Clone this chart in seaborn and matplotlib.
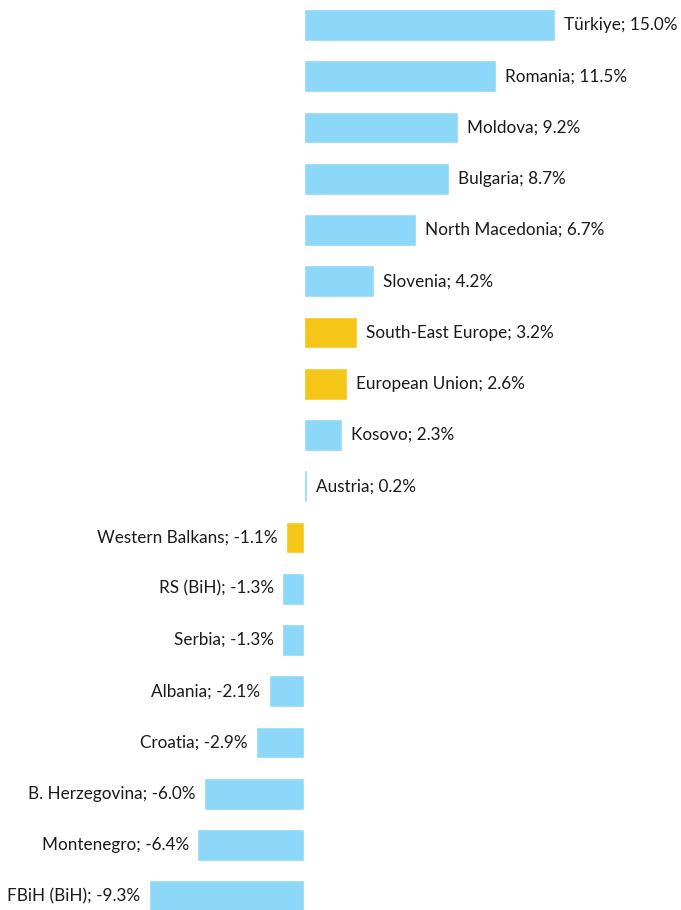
import matplotlib
matplotlib.use("Agg")
import matplotlib.pyplot as plt
import seaborn as sns
import pandas as pd

countries = ["Türkiye", "Romania", "Moldova", "Bulgaria", "North Macedonia",
             "Slovenia", "South-East Europe", "European Union", "Kosovo",
             "Austria", "Western Balkans", "RS (BiH)", "Serbia", "Albania",
             "Croatia", "B. Herzegovina", "Montenegro", "FBiH (BiH)"]
values = [15.0, 11.5, 9.2, 8.7, 6.7, 4.2, 3.2, 2.6, 2.3, 0.2,
          -1.1, -1.3, -1.3, -2.1, -2.9, -6.0, -6.4, -9.3]
aggregates = ["South-East Europe", "European Union", "Western Balkans"]

df = pd.DataFrame({"country": countries, "value": values})
df["group"] = ["aggregate" if c in aggregates else "economy" for c in countries]

sns.set_theme(style="white")
plt.rcParams["font.family"] = ["Lato", "DejaVu Sans"]

fig = plt.figure(figsize=(6.81, 9.10), dpi=100)
ax = fig.add_axes([0, 0, 1, 1])

sns.barplot(data=df, y="country", x="value", hue="group", orient="h",
            palette={"economy": "#8DD8F8", "aggregate": "#F5C518"},
            dodge=False, width=0.62, legend=False, ax=ax, saturation=1)

for i, (c, v) in enumerate(zip(countries, values)):
    label = f"{c}; {v:.1f}%"
    if v >= 0:
        ax.annotate(label, (v, i), xytext=(6.5, 0), textcoords="offset points",
                    ha="left", va="center", fontsize=12.3, color="#1a1a1a")
    else:
        ax.annotate(label, (v, i), xytext=(-6, 0), textcoords="offset points",
                    ha="right", va="center", fontsize=12.3, color="#1a1a1a")

ax.set_xlim(-18.2, 22.57)
ax.set_ylim(17.27, -0.49)
ax.axis("off")

fig.savefig("out.png", dpi=100)
